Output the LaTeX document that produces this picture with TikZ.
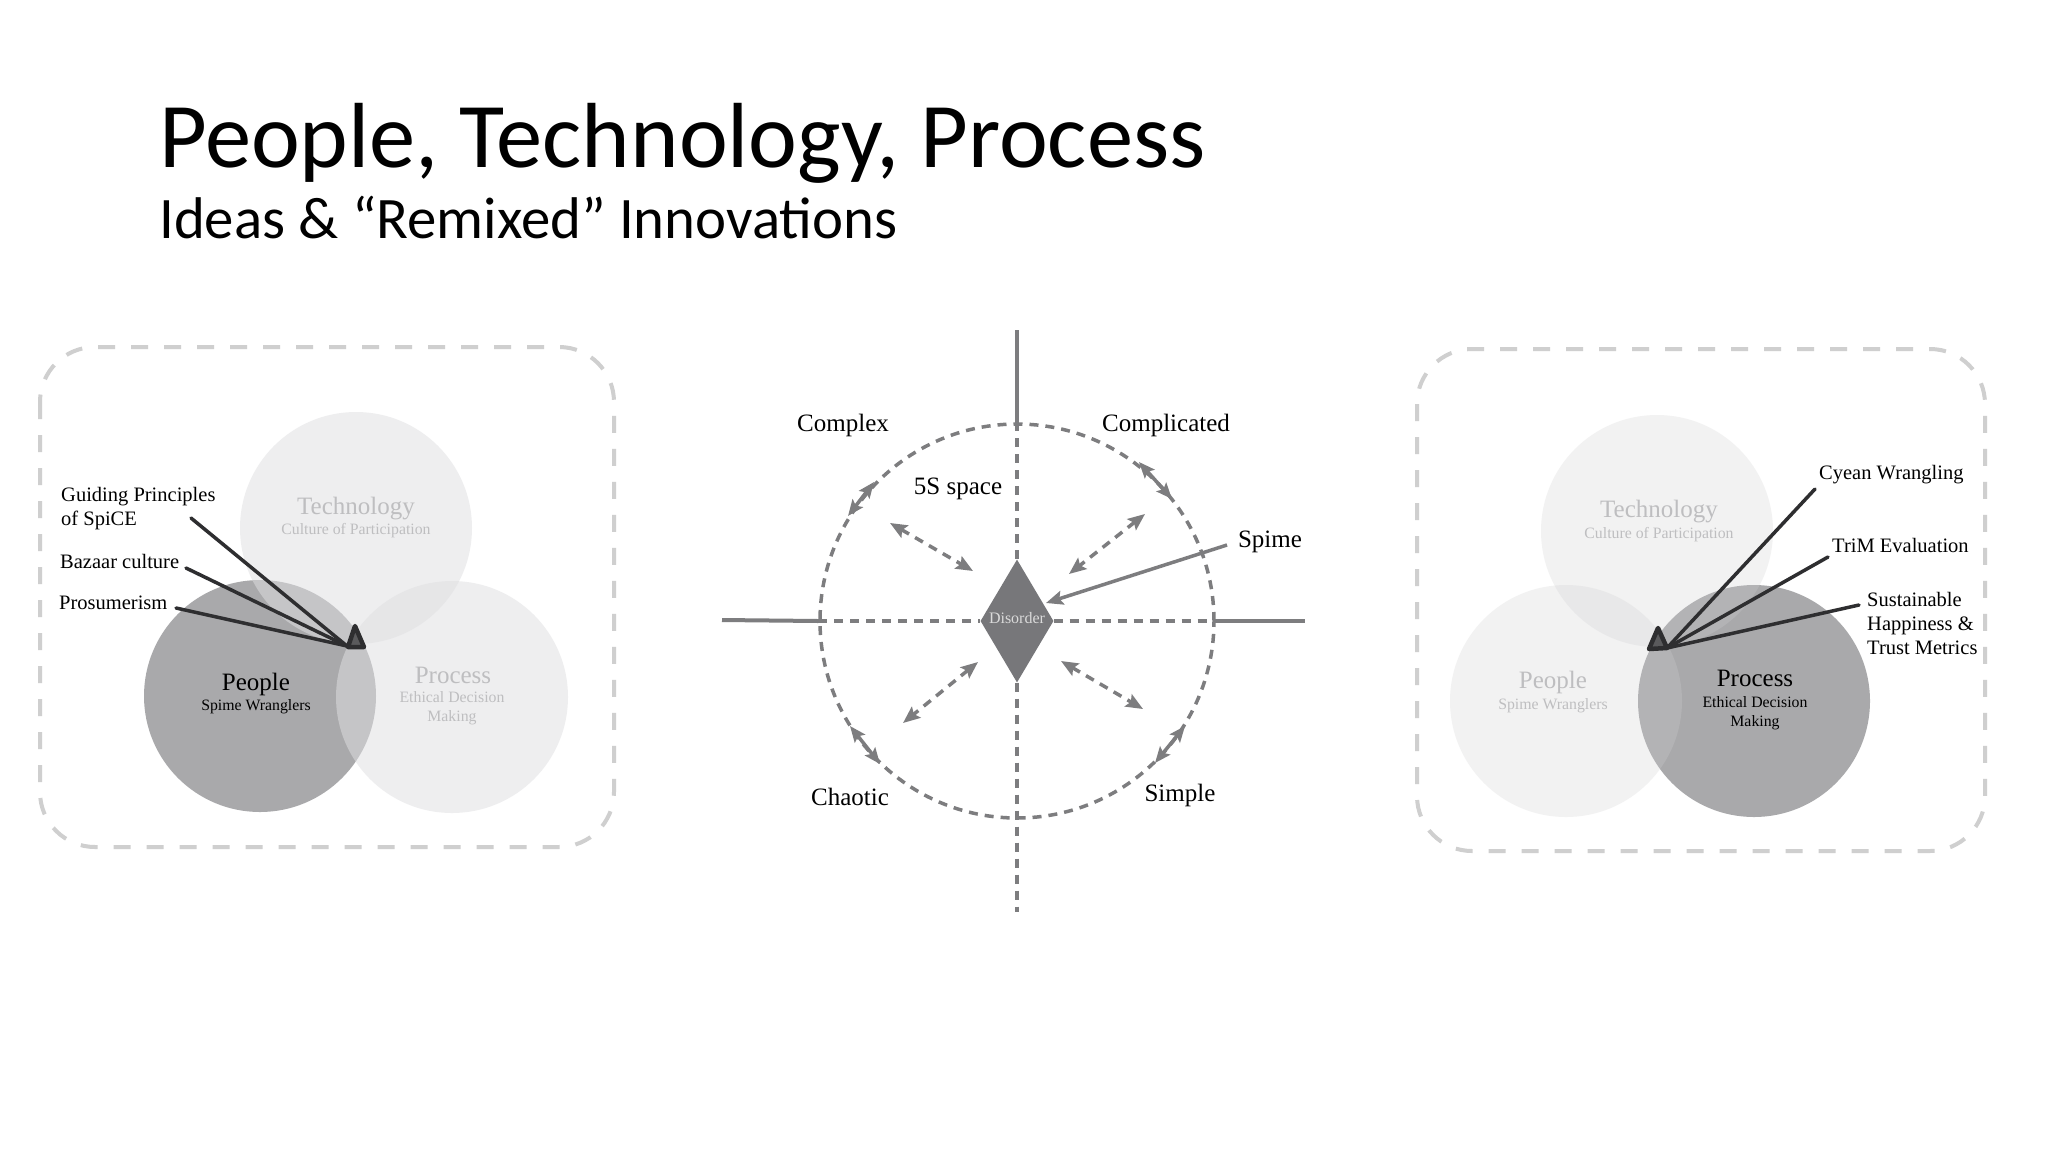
\documentclass[tikz,border=0pt]{standalone}
\usepackage{fontspec}
\setmainfont{Liberation Serif}
\newfontfamily\calfont{Carlito}
\usetikzlibrary{arrows.meta,shapes.geometric}
\definecolor{darkc}{HTML}{A9A9AB}
\definecolor{lightL}{HTML}{DFDFE1}
\definecolor{lightR}{HTML}{CFCFD1}
\definecolor{panelgray}{HTML}{CFCFCF}
\definecolor{fainttxt}{HTML}{BEBEC0}
\definecolor{leadc}{HTML}{2E2E30}
\definecolor{apexfill}{HTML}{5A5A5C}
\definecolor{axc}{HTML}{7D7D7F}
\definecolor{diamc}{HTML}{77777A}
\definecolor{distxt}{HTML}{DADADA}
\begin{document}
\begin{tikzpicture}[x=1pt,y=-1pt,
  panel/.style={draw=panelgray, line width=4pt, dash pattern=on 17pt off 16pt, rounded corners=55pt},
  darkdisc/.style={circle, fill=darkc, minimum size=232pt, inner sep=0pt},
  lightdiscL/.style={circle, fill=lightL, fill opacity=0.52, minimum size=232pt, inner sep=0pt},
  lightdiscR/.style={circle, fill=lightR, fill opacity=0.27, minimum size=232pt, inner sep=0pt},
  bigtxt/.style={font=\fontsize{25}{28}\selectfont, anchor=base, inner sep=0pt},
  smalltxt/.style={font=\fontsize{15.8}{19}\selectfont, anchor=base, inner sep=0pt, align=center},
  faint/.style={text=fainttxt},
  lbl/.style={font=\fontsize{20.5}{24}\selectfont, anchor=base west, inner sep=0pt, align=left},
  leader/.style={draw=leadc, line width=3.5pt, line cap=round},
  apexmark/.style={fill=apexfill, draw=leadc, line width=4.5pt, line join=round},
  axis/.style={draw=axc, line width=4pt},
  axdash/.style={draw=axc, line width=3.5pt, dash pattern=on 9pt off 7pt},
  dbl/.style={axdash, {Stealth[length=17pt,width=14pt,inset=3pt]}-{Stealth[length=17pt,width=14pt,inset=3pt]}},
  rim/.style={draw=axc, line width=3.5pt, {Stealth[length=16pt,width=13pt,inset=3pt]}-{Stealth[length=16pt,width=13pt,inset=3pt]}},
  clbl/.style={font=\fontsize{25}{28}\selectfont, anchor=base, inner sep=0pt},
]
\useasboundingbox[fill=white] (0,0) rectangle (2048,1152);

% Title
\node[anchor=base west, inner sep=0pt, font=\calfont\fontsize{92.5}{100}\selectfont] (title) at (159,167) {People, Technology, Process};
\node[anchor=base west, inner sep=0pt, font=\calfont\fontsize{58.8}{64}\selectfont] (subtitle) at (159,238) {Ideas \& “Remixed” Innovations};

% ---------------- Left panel ----------------
\draw[panel] (40,347) rectangle (614,847);
\node[darkdisc] (Lpeople) at (260,696) {};
\node[lightdiscL] (Ltech) at (356,528) {};
\node[lightdiscL] (Lproc) at (452,697) {};
\node[bigtxt, faint] (LtechT) at (356,514) {Technology};
\node[smalltxt, faint] (LtechS) at (356,534) {Culture of Participation};
\node[bigtxt] (LpeopleT) at (256,690) {People};
\node[smalltxt] (LpeopleS) at (256,710) {Spime Wranglers};
\node[bigtxt, faint] (LprocT) at (453,683) {Process};
\node[smalltxt, faint] (LprocS) at (452,721) {Ethical Decision\\Making};

\node[lbl] (gp) at (61,525) {Guiding Principles\\of SpiCE};
\node[lbl] (bz) at (60,568) {Bazaar culture};
\node[lbl] (pr) at (59,609) {Prosumerism};
\coordinate (gpE) at (191,518);
\coordinate (bzE) at (186,568);
\coordinate (prE) at (176,608);
\coordinate (Lapex) at (347,646);
\draw[leader] (gpE) -- (Lapex);
\draw[leader] (bzE) -- (Lapex);
\draw[leader] (prE) -- (Lapex);
\draw[apexmark] (348,647) -- (364,647) -- (355,626) -- cycle;

% ---------------- Centre diagram ----------------
\node[circle, draw=axc, line width=3.5pt, dash pattern=on 9pt off 7pt, minimum size=394pt, inner sep=0pt] (ring) at (1017,621) {};
\node[diamond, fill=diamc, minimum width=73pt, minimum height=123pt, inner sep=0pt] (dis) at (1017,621) {};
\node[font=\fontsize{16}{18}\selectfont, text=distxt, inner sep=0pt] (disT) at (1017,618) {Disorder};

\coordinate (axL) at (722,620);
\coordinate (axR) at (1305,621);
\coordinate (axT) at (1017,330);
\coordinate (axB) at (1017,912);
\draw[axis] (axL) -- (ring.west);
\draw[axdash] (ring.west) -- (dis.west);
\draw[axdash] (dis.east) -- (ring.east);
\draw[axis] (ring.east) -- (axR);
\draw[axis] (axT) -- (ring.north);
\draw[axdash] (ring.north) -- (dis.north);
\draw[axdash] (dis.south) -- (axB);

\node[clbl] (cx) at (843,431) {Complex};
\node[clbl] (cp) at (1166,431) {Complicated};
\node[clbl] (ss) at (958,494) {5S space};
\node[clbl] (sp) at (1270,547) {Spime};
\node[clbl] (ch) at (850,805) {Chaotic};
\node[clbl] (si) at (1180,801) {Simple};

\coordinate (spS) at (1227,545);
\coordinate (spT) at (1046,603);
\draw[draw=axc, line width=3.5pt, -{Stealth[length=17pt,width=14pt,inset=3pt]}] (spS) -- (spT);

% inner double arrows
\coordinate (nwA) at (890,523); \coordinate (nwB) at (973,571);
\coordinate (neA) at (1145,514); \coordinate (neB) at (1069,574);
\coordinate (swA) at (978,662); \coordinate (swB) at (903,723);
\coordinate (seA) at (1061,661); \coordinate (seB) at (1143,709);
\draw[dbl] (nwA) -- (nwB);
\draw[dbl] (neA) -- (neB);
\draw[dbl] (swA) -- (swB);
\draw[dbl] (seA) -- (seB);

% rim double arrows
\coordinate (rnwA) at (848,516); \coordinate (rnwB) at (874,482);
\coordinate (rneA) at (1139,462); \coordinate (rneB) at (1172,499);
\coordinate (rswA) at (850,726); \coordinate (rswB) at (880,764);
\coordinate (rseA) at (1185,726); \coordinate (rseB) at (1155,763);
\draw[rim] (rnwA) -- (rnwB);
\draw[rim] (rneA) -- (rneB);
\draw[rim] (rswA) -- (rswB);
\draw[rim] (rseA) -- (rseB);

% ---------------- Right panel ----------------
\draw[panel] (1417,349) rectangle (1985,851);
\node[darkdisc] (Rproc) at (1754,701) {};
\node[lightdiscR] (Rtech) at (1657,531) {};
\node[lightdiscR] (Rpeople) at (1566,701) {};
\node[bigtxt, faint] (RtechT) at (1659,517) {Technology};
\node[smalltxt, faint] (RtechS) at (1659,538) {Culture of Participation};
\node[bigtxt, faint] (RpeopleT) at (1553,688) {People};
\node[smalltxt, faint] (RpeopleS) at (1553,709) {Spime Wranglers};
\node[bigtxt] (RprocT) at (1755,686) {Process};
\node[smalltxt] (RprocS) at (1755,726) {Ethical Decision\\Making};

\node[lbl] (cw) at (1819,479) {Cyean Wrangling};
\node[lbl] (tr) at (1832,552) {TriM Evaluation};
\node[lbl] (sh) at (1867,654) {Sustainable\\Happiness \&\\Trust Metrics};
\coordinate (cwE) at (1815,489);
\coordinate (trE) at (1828,557);
\coordinate (shE) at (1859,605);
\coordinate (Rapex) at (1667,648);
\draw[leader] (cwE) -- (Rapex);
\draw[leader] (trE) -- (Rapex);
\draw[leader] (shE) -- (Rapex);
\draw[apexmark] (1649,649) -- (1667,648) -- (1658,628) -- cycle;
\end{tikzpicture}
\end{document}
